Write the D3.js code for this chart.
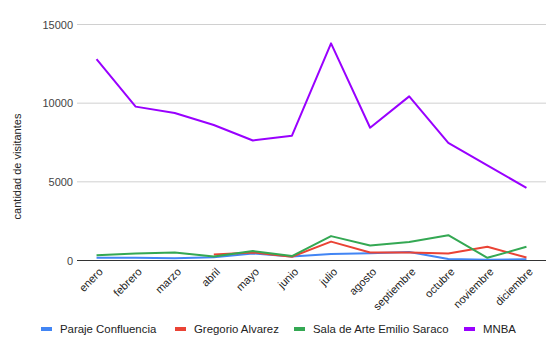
<!DOCTYPE html>
<html>
<head>
<meta charset="utf-8">
<script src="https://cdn.jsdelivr.net/npm/d3@7"></script>
<style>
  html, body { margin: 0; padding: 0; background: #fff; }
  svg { display: block; font-family: "Liberation Sans", Arial, sans-serif; }
</style>
</head>
<body>
<svg id="chart" width="558" height="341"></svg>
<script>
// Monthly visitors per venue
const months = ["enero", "febrero", "marzo", "abril", "mayo", "junio", "julio",
  "agosto", "septiembre", "octubre", "noviembre", "diciembre"];
const parajeConfluencia = [170, 180, 140, 200, 450, 250, 420, 460, 540, 100, 50, 80];
const gregorioAlvarez = [null, null, null, 380, 510, 240, 1200, 510, 510, 450, 870, 190];
const salaSaraco = [340, 440, 510, 250, 600, 280, 1550, 950, 1180, 1610, 170, 870];
const mnba = [12800, 9780, 9380, 8610, 7630, 7930, 13800, 8440, 10430, 7470, 6040, 4620];
const yTicks = [0, 5000, 10000, 15000];

const series = [
  { name: "Paraje Confluencia", values: parajeConfluencia, color: "#4285f4" },
  { name: "Gregorio Alvarez", values: gregorioAlvarez, color: "#ea4335" },
  { name: "Sala de Arte Emilio Saraco", values: salaSaraco, color: "#34a853" },
  { name: "MNBA", values: mnba, color: "#9900ff" }
];

const svg = d3.select("#chart");
const plotLeft = 77, plotRight = 546, plotTop = 24.5, plotBottom = 260.5;

const x = d3.scaleBand().domain(months).range([plotLeft, plotRight]);
const y = d3.scaleLinear().domain([0, 15000]).range([plotBottom, plotTop]);

// Gridlines
svg.append("g")
  .selectAll("line")
  .data(yTicks.filter(d => d > 0))
  .join("line")
  .attr("x1", plotLeft).attr("x2", plotRight)
  .attr("y1", d => y(d)).attr("y2", d => y(d))
  .attr("stroke", "#d0d0d0").attr("stroke-width", 1);

// Y axis labels
const yAxis = svg.append("g")
  .attr("transform", `translate(${plotLeft - 4},0)`)
  .call(d3.axisLeft(y).tickValues(yTicks).tickSize(0).tickPadding(0).tickFormat(d3.format("d")));
yAxis.select(".domain").remove();
yAxis.selectAll("text")
  .attr("font-size", 11).attr("fill", "#444").attr("font-family", "Liberation Sans, Arial, sans-serif");

// Y axis title
svg.append("text")
  .attr("transform", `translate(21,${(plotTop + plotBottom) / 2 + 24}) rotate(-90)`)
  .attr("text-anchor", "middle")
  .attr("font-size", 11).attr("fill", "#222")
  .text("cantidad de visitantes");

// Lines
const line = d3.line()
  .defined(d => d != null)
  .x((d, i) => x(months[i]) + x.bandwidth() / 2)
  .y(d => y(d));

svg.append("g")
  .selectAll("path")
  .data(series)
  .join("path")
  .attr("d", s => line(s.values))
  .attr("fill", "none")
  .attr("stroke", s => s.color)
  .attr("stroke-width", 2)
  .attr("stroke-linejoin", "round");

// Baseline
svg.append("line")
  .attr("x1", plotLeft).attr("x2", plotRight)
  .attr("y1", y(0)).attr("y2", y(0))
  .attr("stroke", "#333").attr("stroke-width", 1);

// X axis labels
const xAxis = svg.append("g")
  .attr("transform", `translate(0,${y(0)})`)
  .call(d3.axisBottom(x).tickSize(0).tickPadding(0));
xAxis.select(".domain").remove();
xAxis.selectAll("text")
  .attr("font-size", 11).attr("fill", "#222").attr("font-family", "Liberation Sans, Arial, sans-serif")
  .attr("text-anchor", "end")
  .attr("dy", 0)
  .attr("transform", "translate(7,12) rotate(-45)");

// Legend
const legendX = [41, 175, 294, 464];
const legend = svg.append("g")
  .selectAll("g")
  .data(series)
  .join("g")
  .attr("transform", (d, i) => `translate(${legendX[i]},329)`);
legend.append("rect")
  .attr("x", 0).attr("y", -2).attr("width", 11).attr("height", 4)
  .attr("fill", d => d.color);
legend.append("text")
  .attr("x", 19).attr("y", 4)
  .attr("font-size", 11.4).attr("fill", "#222")
  .text(d => d.name);
</script>
</body>
</html>
